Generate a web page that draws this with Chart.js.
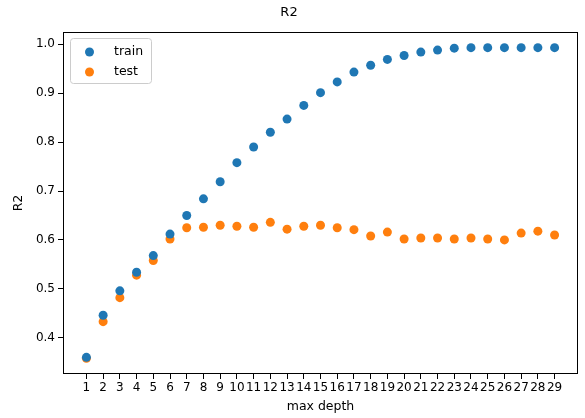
<!DOCTYPE html>
<html>
<head>
<meta charset="utf-8">
<script src="https://cdn.jsdelivr.net/npm/chart.js@4.4.1/dist/chart.umd.min.js"></script>
<style>
	html, body { margin: 0; padding: 0; background: #fff; }
	#wrap { width: 585px; height: 418px; }
</style>
</head>
<body>
<div id="wrap"><canvas id="r2-canvas"></canvas></div>
<script>
// max depth values
const depths = [1, 2, 3, 4, 5, 6, 7, 8, 9, 10, 11, 12, 13, 14, 15, 16, 17, 18, 19, 20, 21, 22, 23, 24, 25, 26, 27, 28, 29];
const trainR2 = [0.360, 0.446, 0.496, 0.534, 0.568, 0.612, 0.650, 0.684, 0.719, 0.758, 0.790, 0.820, 0.847, 0.875, 0.901,
	0.923, 0.943, 0.957, 0.969, 0.977, 0.984, 0.988, 0.992, 0.993, 0.993, 0.993, 0.993, 0.993, 0.993];
const testR2 = [0.358, 0.433, 0.482, 0.528, 0.558, 0.602, 0.625, 0.626, 0.630, 0.628, 0.626, 0.636, 0.622, 0.628, 0.630,
	0.625, 0.621, 0.608, 0.616, 0.602, 0.604, 0.604, 0.602, 0.604, 0.602, 0.600, 0.614, 0.618, 0.610];
const yTicks = [0.4, 0.5, 0.6, 0.7, 0.8, 0.9, 1.0];

const font = "'DejaVu Sans', sans-serif";

const toPoints = vals => vals.map((v, i) => ({x: depths[i], y: v}));

// frame + inside legend, matplotlib style
const framePlugin = {
	id: "frame",
	afterDatasetsDraw(chart) {
		const ctx = chart.ctx;
		const a = chart.chartArea;
		ctx.save();
		ctx.strokeStyle = "#000";
		ctx.lineWidth = 1;
		ctx.strokeRect(Math.round(a.left) + 0.5, Math.round(a.top) + 0.5, Math.round(a.right - a.left) - 1, Math.round(a.bottom - a.top) - 1);

		// legend box
		const bx = a.left + 7.5, by = a.top + 6.5, bw = 81, bh = 45;
		ctx.beginPath();
		ctx.roundRect(bx, by, bw, bh, 3);
		ctx.fillStyle = "rgba(255,255,255,0.8)";
		ctx.fill();
		ctx.strokeStyle = "#cccccc";
		ctx.stroke();
		ctx.font = "12.5px " + font;
		ctx.textBaseline = "middle";
		chart.data.datasets.forEach((ds, i) => {
			const cy = a.top + 20 + i * 20;
			ctx.beginPath();
			ctx.arc(a.left + 26.5, cy, 4.5, 0, Math.PI * 2);
			ctx.fillStyle = ds.backgroundColor;
			ctx.fill();
			ctx.fillStyle = "#000";
			ctx.fillText(ds.label, a.left + 51, cy);
		});
		ctx.restore();
	}
};

new Chart("r2-canvas", {
	type: "scatter",
	data: {
		datasets: [
			{
				label: "train",
				data: toPoints(trainR2),
				backgroundColor: "#1f77b4",
				borderColor: "#1f77b4",
				borderWidth: 0,
				pointRadius: 4.5,
			},
			{
				label: "test",
				data: toPoints(testR2),
				backgroundColor: "#ff7f0e",
				borderColor: "#ff7f0e",
				borderWidth: 0,
				pointRadius: 4.5,
			}
		]
	},
	options: {
		responsive: true,
		maintainAspectRatio: false,
		animation: false,
		layout: {
			padding: {left: 0, right: 7, top: 0, bottom: 0}
		},
		scales: {
			x: {
				type: "linear",
				min: -0.4,
				max: 30.4,
				afterBuildTicks: scale => {
					scale.ticks = depths.map(d => ({value: d}));
				},
				afterFit: scale => {
					scale.height = 44;
				},
				ticks: {
					autoSkip: false,
					maxRotation: 0,
					padding: 2,
					color: "#000",
					font: {family: font, size: 12},
					callback: v => String(v)
				},
				grid: {
					drawOnChartArea: false,
					tickLength: 5,
					tickColor: "#000",
				},
				border: {display: false},
				title: {
					display: true,
					text: "max depth",
					color: "#000",
					font: {family: font, size: 12.5},
					padding: {top: 0, bottom: 4}
				}
			},
			y: {
				min: 0.326,
				max: 1.025,
				afterBuildTicks: scale => {
					scale.ticks = yTicks.map(v => ({value: v}));
				},
				afterFit: scale => {
					scale.width = 63;
				},
				ticks: {
					padding: 3,
					color: "#000",
					font: {family: font, size: 12},
					callback: v => v.toFixed(1)
				},
				grid: {
					drawOnChartArea: false,
					tickLength: 5,
					tickColor: "#000",
				},
				border: {display: false},
				title: {
					display: true,
					text: "R2",
					color: "#000",
					font: {family: font, size: 12.5},
					padding: {top: 11, bottom: 0}
				}
			}
		},
		plugins: {
			tooltip: {
				enabled: false
			},
			legend: {
				display: false
			},
			title: {
				display: true,
				text: "R2",
				color: "#000",
				font: {family: font, size: 13, weight: "normal"},
				padding: {top: 5, bottom: 11.4}
			}
		}
	},
	plugins: [framePlugin]
});
</script>
</body>
</html>
